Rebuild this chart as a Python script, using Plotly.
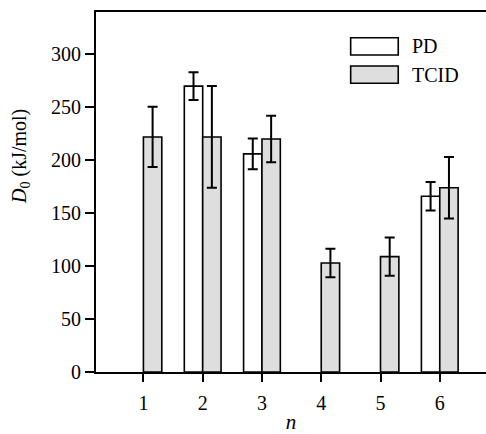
import plotly.graph_objects as go

n_values = [1, 2, 3, 4, 5, 6]
pd_values = [None, 270, 206, None, None, 166]
pd_errors = [None, 13, 14.5, None, None, 13.5]
tcid_values = [222, 222, 220, 103, 109, 174]
tcid_errors = [28.5, 48, 22, 13.5, 18, 29]
y_ticks = [0, 50, 100, 150, 200, 250, 300]

FONT = "Liberation Serif"
GRAY = "#dedede"

fig = go.Figure()
fig.add_trace(go.Bar(
    x=n_values, y=pd_values, name="PD",
    marker=dict(color="white", line=dict(color="black", width=1.6)),
    error_y=dict(type="data", array=pd_errors, visible=True,
                 color="black", thickness=2, width=5),
))
fig.add_trace(go.Bar(
    x=n_values, y=tcid_values, name="TCID",
    marker=dict(color=GRAY, line=dict(color="black", width=1.6)),
    error_y=dict(type="data", array=tcid_errors, visible=True,
                 color="black", thickness=2, width=5),
))

fig.update_layout(
    width=486, height=434,
    margin=dict(l=96, r=0, t=12, b=62),
    paper_bgcolor="white", plot_bgcolor="white",
    barmode="group", bargap=0.38, bargroupgap=0,
    showlegend=False,
    font=dict(family=FONT, size=20, color="black"),
)
fig.update_xaxes(
    range=[0.2, 6.78], tickvals=n_values, ticktext=[str(v) for v in n_values],
    showline=True, linecolor="black", linewidth=2, mirror=True,
    ticks="outside", ticklen=8, tickwidth=2, tickcolor="black",
    showgrid=False, zeroline=False, ticklabelstandoff=4,
    title=dict(text="<i>n</i>", font=dict(size=21, family=FONT), standoff=4),
)
fig.update_yaxes(
    range=[0, 340], tickvals=y_ticks,
    showline=True, linecolor="black", linewidth=2, mirror=False,
    ticks="outside", ticklen=9, tickwidth=2, tickcolor="black",
    showgrid=False, zeroline=False,
)

# Y-axis title as rotated annotation
fig.add_annotation(
    text="<i>D</i><sub>0</sub> (kJ/mol)", xref="paper", yref="paper",
    x=-0.195, y=0.60, xanchor="center", yanchor="middle",
    textangle=-90, showarrow=False, font=dict(size=20, family=FONT),
)

# Custom legend
legend_items = [("PD", "white", 0.9286, 0.8806), ("TCID", GRAY, 0.85, 0.802)]
for label, color, y1, y0 in legend_items:
    fig.add_shape(type="rect", xref="paper", yref="paper",
                  x0=0.653, x1=0.775, y0=y0, y1=y1,
                  fillcolor=color, line=dict(color="black", width=1.6))
    fig.add_annotation(text=label, xref="paper", yref="paper",
                       x=0.805, y=(y0 + y1) / 2, xanchor="left", yanchor="middle",
                       showarrow=False, font=dict(size=20, family=FONT))

fig.write_html("out.html")
